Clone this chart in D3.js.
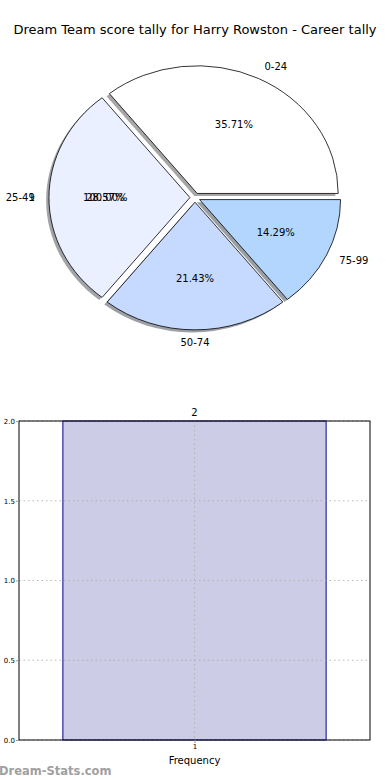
<!DOCTYPE html>
<html><head><meta charset="utf-8">
<script src="https://cdn.jsdelivr.net/npm/d3@7"></script>
<style>body{margin:0;background:#fff}svg{display:block}text{font-family:"DejaVu Sans",sans-serif}</style>
</head><body>
<svg id="c" width="390" height="780"></svg>
<script>
const title = "Dream Team score tally for Harry Rowston - Career tally";
const pieLabels = ["0-24","25-49","50-74","75-99"];
const pieValues = [5,4,3,2];
const pieColors = ["#ffffff","#eaf0ff","#c6d9ff","#b3d6ff"];
const overlayLabels = ["1"];
const overlayValues = [1];
const barCats = [1];
const barValues = [2];
const yTicks = [0,0.5,1.0,1.5,2.0];

const svg = d3.select("#c");
svg.append("text").attr("x",195).attr("y",34).attr("text-anchor","middle").attr("font-size",13).text(title);

// pie
const cx=195, cy=197.6, rx=141, ry=127.7, explode=0.036;
const total = d3.sum(pieValues);
let acc=0;
const wedges = pieValues.map((v,i)=>{const t1=acc/total*2*Math.PI; acc+=v; const t2=acc/total*2*Math.PI; return {i,v,t1,t2,m:(t1+t2)/2};});
const arc = d3.arc().innerRadius(0).outerRadius(1);
const g = svg.append("g");
function wedgePath(w){return arc({startAngle:Math.PI/2-w.t2,endAngle:Math.PI/2-w.t1});}
function off(w){return [explode*rx*Math.cos(w.m), -explode*ry*Math.sin(w.m)];}
// shadows
wedges.forEach(w=>{const [ox,oy]=off(w); const c=d3.rgb(pieColors[w.i]);
  g.append("path").attr("d",wedgePath(w)).attr("transform",`translate(${cx+ox-0.02*rx},${cy+oy+0.02*ry}) scale(${rx},${ry})`)
   .attr("fill",d3.rgb(c.r*0.3,c.g*0.3,c.b*0.3)).attr("fill-opacity",0.5);});
wedges.forEach(w=>{const [ox,oy]=off(w);
  g.append("path").attr("d",wedgePath(w)).attr("transform",`translate(${cx+ox},${cy+oy}) scale(${rx},${ry})`)
   .attr("fill",pieColors[w.i]).attr("stroke","#000").attr("stroke-width",0.8).attr("vector-effect","non-scaling-stroke");});
function labels(ws, labs, tot){
  ws.forEach(w=>{const [ox,oy]=off(w); const c=Math.cos(w.m), s=Math.sin(w.m);
    const lx=cx+ox+1.1*rx*c, ly=cy+oy-1.1*ry*s;
    g.append("text").attr("x",lx).attr("y",ly).attr("dy","0.35em").attr("font-size",10)
      .attr("text-anchor", c>0.0001?"start":(c<-0.0001?"end":"middle")).text(labs[w.i]);
    const px=cx+ox+0.6*rx*c, py=cy+oy-0.6*ry*s;
    g.append("text").attr("x",px).attr("y",py).attr("dy","0.35em").attr("font-size",10).attr("text-anchor","middle")
      .text((w.v/tot*100).toFixed(2)+"%");});
}
labels(wedges, pieLabels, total);
const oTot=d3.sum(overlayValues); let a2=0;
const ow = overlayValues.map((v,i)=>{const t1=a2/oTot*2*Math.PI; a2+=v; const t2=a2/oTot*2*Math.PI; return {i,v,t1,t2,m:(t1+t2)/2};});
labels(ow, overlayLabels, oTot);

// bar chart
const L=19,R=370,T=421,B=740;
const x = d3.scaleLinear().domain([0.5,1.5]).range([L,R]);
const y = d3.scaleLinear().domain([0,2]).range([B,T]);
const bg = svg.append("g");
const bw=0.75;
bg.selectAll("rect.bar").data(barValues).join("rect").attr("class","bar")
  .attr("x",(d,i)=>x(barCats[i]-bw/2)).attr("width",(d,i)=>x(barCats[i]+bw/2)-x(barCats[i]-bw/2))
  .attr("y",d=>y(d)).attr("height",d=>B-y(d)).attr("fill","#ccccE6").attr("stroke","#00008b").attr("stroke-width",1);
// grid
bg.selectAll("line.gy").data(yTicks).join("line").attr("x1",L).attr("x2",R).attr("y1",d=>y(d)).attr("y2",d=>y(d))
  .attr("stroke","#aaa").attr("stroke-width",1).attr("stroke-dasharray","1.5,3").attr("opacity",0.8);
bg.selectAll("line.gx").data(barCats).join("line").attr("x1",d=>x(d)).attr("x2",d=>x(d)).attr("y1",T).attr("y2",B)
  .attr("stroke","#aaa").attr("stroke-width",1).attr("stroke-dasharray","1.5,3").attr("opacity",0.8);
bg.append("rect").attr("x",L).attr("y",T).attr("width",R-L).attr("height",B-T).attr("fill","none").attr("stroke","#000").attr("stroke-width",1);
const yAxis = d3.axisLeft(y).tickValues(yTicks).tickFormat(d3.format(".1f")).tickSize(3).tickPadding(1);
const ya = bg.append("g").attr("transform",`translate(${L},0)`).call(yAxis);
ya.select(".domain").remove(); ya.selectAll("text").attr("font-size",7).attr("font-family","DejaVu Sans");
ya.selectAll("line").attr("stroke","#999");
const xAxis = d3.axisBottom(x).tickValues(barCats).tickFormat(d3.format("d")).tickSize(3).tickPadding(1);
const xa = bg.append("g").attr("transform",`translate(0,${B})`).call(xAxis);
xa.select(".domain").remove(); xa.selectAll("text").attr("font-size",7).attr("font-family","DejaVu Sans");
xa.selectAll("line").attr("stroke","#999");
bg.selectAll("text.bl").data(barValues).join("text").attr("class","bl").attr("x",(d,i)=>x(barCats[i])).attr("y",d=>y(d)-5)
  .attr("text-anchor","middle").attr("font-size",10).text(d=>d);
bg.append("text").attr("x",x(1)).attr("y",764).attr("text-anchor","middle").attr("font-size",10).text("Frequency");
svg.append("text").attr("x",-1).attr("y",775).attr("font-size",11.5).attr("fill","#a0a0a0").attr("font-weight","bold").text("Dream-Stats.com");
</script></body></html>
